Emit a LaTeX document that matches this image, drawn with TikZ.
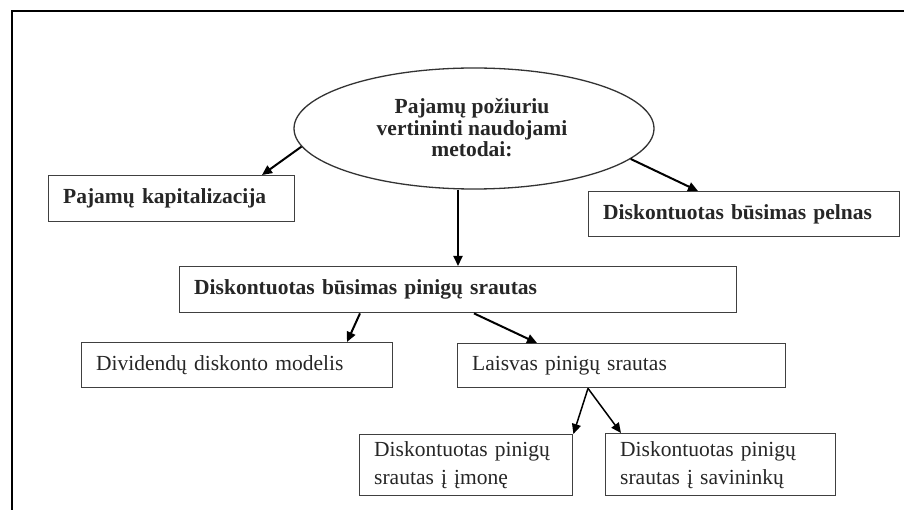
\documentclass[tikz,border=0pt]{standalone}
\usepackage{fontspec}
\setmainfont{Liberation Serif}
\usetikzlibrary{shapes.geometric,arrows.meta,calc}
\newcommand\dfs{\fontsize{21.5}{21.5}\selectfont}
\tikzset{
  box/.style={draw=black!75, line width=1.4pt, rectangle, anchor=north west,
    inner xsep=14.5pt, inner ysep=0pt, align=left, text=black!85},
  boldbox/.style={box, font=\dfs\bfseries},
  plainbox/.style={box, font=\dfs},
  twoline/.style={font=\fontsize{21.5}{28}\selectfont},
  arr/.style={-{Triangle[length=10pt,width=9pt]}, line width=2pt, black},
  thinarr/.style={arr, line width=1.5pt},
}
\begin{document}
\begin{tikzpicture}[x=1pt,y=-1pt]
  \useasboundingbox[fill=white] (0,0) rectangle (904,510);
  % outer frame (only left and top sides fall inside the page)
  \draw[line width=2.2pt, black] (12,510) -- (12,11) -- (904,11);

  % central ellipse
  \node[ellipse, draw=black!80, line width=1.3pt, minimum width=360pt,
        minimum height=121pt, inner sep=0pt] (root) at (474,128.5) {};
  \node[align=center, font=\dfs\bfseries, text=black!85, inner sep=0pt]
        (roottext) at (472,128) {Pajamų požiuriu\\vertininti naudojami\\metodai:};

  % first level
  \node[boldbox, text width=217pt, minimum height=46pt] (kap) at (48,175)
        {Pajamų kapitalizacija};
  \node[boldbox, text width=282pt, minimum height=45pt] (pelnas) at (588,191)
        {Diskontuotas būsimas pelnas};
  \node[boldbox, text width=528pt, minimum height=46pt] (srautas) at (179,266)
        {Diskontuotas būsimas pinigų srautas};

  % second level
  \node[plainbox, text width=282pt, minimum height=45pt] (divid) at (81,342)
        {Dividendų diskonto modelis};
  \node[plainbox, text width=299pt, minimum height=44pt] (laisvas) at (457,343)
        {Laisvas pinigų srautas};

  % third level
  \node[plainbox, twoline, text width=184pt, minimum height=61pt] (imone) at (359,434)
        {Diskontuotas pinigų\\srautas į įmonę};
  \node[plainbox, twoline, text width=201pt, minimum height=62pt] (savin) at (605,433)
        {Diskontuotas pinigų\\srautas į savininkų};

  % connectors
  \draw[arr] (root.186) -- ($(kap.north west)+(214,0)$);
  \draw[arr] (root.349.5) -- ($(pelnas.north west)+(110,0)$);
  \draw[arr] ($(root.south)+(-16,0)$) -- ($(srautas.north west)+(279,0)$);
  \draw[arr] ($(srautas.south west)+(181,0)$) -- ($(divid.north west)+(266,0)$);
  \draw[arr] ($(srautas.south west)+(295,0)$) -- ($(laisvas.north west)+(80,0)$);
  \coordinate (split) at ($(laisvas.south west)+(131,0)$);
  \draw[thinarr] (split) -- (imone.north east);
  \draw[thinarr] (split) -- ($(savin.north west)+(16,0)$);
\end{tikzpicture}
\end{document}
